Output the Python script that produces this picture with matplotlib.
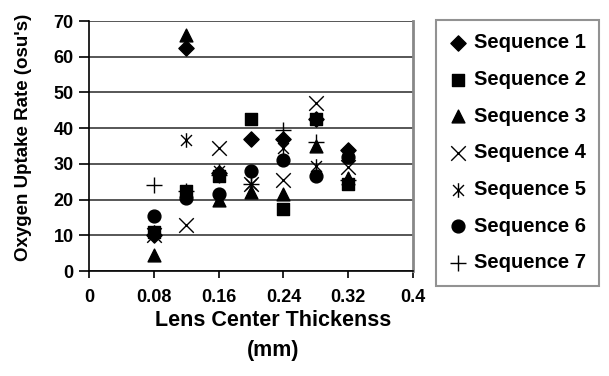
import numpy as np
import matplotlib
matplotlib.use("Agg")
import matplotlib.pyplot as plt
from matplotlib.path import Path

plt.rcParams['font.family'] = ['Liberation Sans', 'DejaVu Sans']
plt.rcParams['font.weight'] = 'bold'

# lens center thickness (mm)
thickness = [0.08, 0.12, 0.16, 0.20, 0.24, 0.28, 0.32]

# oxygen uptake rate (osu's) for each sequence
seq1 = [10, 62.5, 27.5, 37, 37, 42.5, 34]
seq2 = [11, 22.5, 26.5, 42.5, 17.5, 42.5, 24.5]
seq3 = [4.5, 66, 20, 22, 21.5, 35, 26]
seq4 = [10, 13, 34.5, 24.5, 25.5, 47, 29]
seq5 = [11, 36.7, 28, 24.5, 34.5, 29.5, 33]
seq6 = [15.5, 20.5, 21.5, 28, 31, 26.5, 32]
seq7 = [24, 22.5, 27, 24.5, 39.5, 36, 25.5]

labels = ["Sequence 1", "Sequence 2", "Sequence 3", "Sequence 4",
          "Sequence 5", "Sequence 6", "Sequence 7"]
xticks = [0, 0.08, 0.16, 0.24, 0.32, 0.4]
xticklabels = ["0", "0.08", "0.16", "0.24", "0.32", "0.4"]
yticks = [0, 10, 20, 30, 40, 50, 60, 70]

# asterisk = X with a vertical bar
asterisk = Path([(0, -1), (0, 1), (-0.75, -0.75), (0.75, 0.75), (-0.75, 0.75), (0.75, -0.75)],
                [Path.MOVETO, Path.LINETO, Path.MOVETO, Path.LINETO, Path.MOVETO, Path.LINETO])

fig = plt.figure(figsize=(6.09, 3.76), dpi=100)
ax = fig.add_axes([89 / 609, 1 - 271 / 376, 324 / 609, 250 / 376])

ax.scatter(thickness, seq1, marker="D", s=60, color="black", label=labels[0], zorder=3)
ax.scatter(thickness, seq2, marker="s", s=80, color="black", label=labels[1], zorder=3)
ax.scatter(thickness, seq3, marker="^", s=85, color="black", label=labels[2], zorder=3)
ax.scatter(thickness, seq4, marker="x", s=110, color="black", linewidths=1.0, label=labels[3], zorder=3)
ax.scatter(thickness, seq5, marker=asterisk, s=110, color="black", linewidths=1.0, label=labels[4], zorder=3)
ax.scatter(thickness, seq6, marker="o", s=85, color="black", label=labels[5], zorder=3)
ax.scatter(thickness, seq7, marker="+", s=130, color="black", linewidths=1.0, label=labels[6], zorder=3)

ax.set_xlim(0, 0.4)
ax.set_ylim(0, 70)
ax.set_xticks(xticks)
ax.set_xticklabels(xticklabels)
ax.set_yticks(yticks)
ax.tick_params(axis="both", labelsize=13, direction="out", width=1.2, color="black")
ax.tick_params(axis="y", length=7, pad=4)
ax.tick_params(axis="x", length=5, pad=8)
for lab in ax.get_xticklabels() + ax.get_yticklabels():
    lab.set_fontweight("bold")

ax.grid(axis="y", color="#3a3a3a", linewidth=1.2)
ax.set_axisbelow(True)
ax.spines["top"].set_visible(False)
ax.spines["right"].set_color("#888888")
ax.spines["right"].set_linewidth(2)
ax.spines["left"].set_linewidth(1.2)
ax.spines["bottom"].set_linewidth(1.2)

ax.set_xlabel("Lens Center Thickenss\n(mm)", fontsize=15.5, fontweight="bold", linespacing=1.6)
ax.xaxis.set_label_coords((273 - 89) / 324, -0.155)
ax.xaxis.label.set_va("top")
ax.set_ylabel("Oxygen Uptake Rate (osu's)", fontsize=13.5, fontweight="bold")
ax.yaxis.set_label_coords(-0.176, (271 - 137) / 250)

leg = fig.legend(loc="upper left", bbox_to_anchor=(436 / 609, 1 - 20 / 376),
                 frameon=True, fancybox=False, prop={"weight": "bold", "size": 14.5},
                 handlelength=0.9, handletextpad=0.35, labelspacing=0.88,
                 borderpad=0.65, borderaxespad=0, scatterpoints=1)
leg.get_frame().set_edgecolor("#777777")
leg.get_frame().set_linewidth(1.5)

fig.savefig("out.png", dpi=100)
